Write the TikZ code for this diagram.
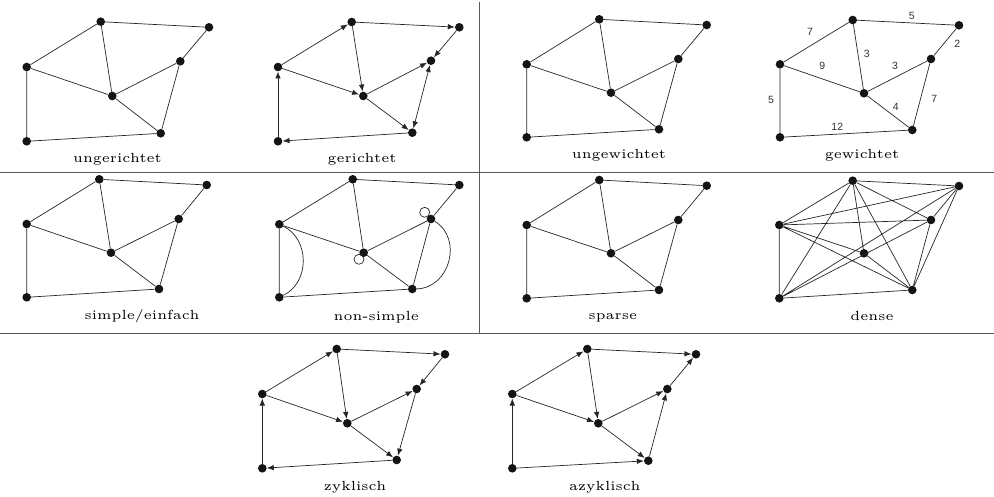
\documentclass[tikz,border=0pt]{standalone}
\usepackage{fontspec}
\newfontfamily\wfont{Liberation Sans}
\usetikzlibrary{arrows.meta}
\tikzset{
  dot/.style={circle,fill=black!92,inner sep=0pt,minimum size=8.6pt},
  edge/.style={draw=black!85,line width=0.7pt},
  arr/.style={-{Latex[length=7pt,width=5.5pt]}},
  darr/.style={{Latex[length=7pt,width=5.5pt]}-{Latex[length=7pt,width=5.5pt]}},
  lab/.style={font=\fontsize{5}{6}\selectfont,scale=2.64,anchor=base,inner sep=0pt,text=black},
  wt/.style={font=\wfont\fontsize{10.5}{12}\selectfont,text=black!80,inner sep=0pt},
  framel/.style={draw=black!65,line width=0.9pt},
}
\newcommand\mkgraph[8]{%
  \node[dot] (#1A) at (#2) {};
  \node[dot] (#1B) at (#3) {};
  \node[dot] (#1C) at (#4) {};
  \node[dot] (#1D) at (#5) {};
  \node[dot] (#1E) at (#6) {};
  \node[dot] (#1F) at (#7) {};
  \node[dot] (#1G) at (#8) {};
}
\newcommand\baseedges[1]{%
  \draw[edge] (#1C)--(#1A) (#1A)--(#1B) (#1B)--(#1D) (#1A)--(#1E) (#1C)--(#1E)
    (#1E)--(#1D) (#1E)--(#1F) (#1D)--(#1F) (#1C)--(#1G) (#1G)--(#1F);
}
\begin{document}
\begin{tikzpicture}[x=1pt,y=-1pt]
\useasboundingbox (0,0) rectangle (994,497);
% frame
\coordinate (fl1) at (0,172.5); \coordinate (fr1) at (994,172.5);
\coordinate (fl2) at (0,333); \coordinate (fr2) at (994,333);
\coordinate (vt) at (479,2); \coordinate (vb) at (479,333);
\draw[framel] (fl1)--(fr1) (fl2)--(fr2) (vt)--(vb);

% ungerichtet
\mkgraph{ug}{100.7,21.7}{209,27.3}{26.7,67}{180.3,61.3}{112.3,96}{160.7,133.3}{26.7,141.3}
\baseedges{ug}
\node[lab] (lug) at (117.5,163) {ungerichtet};

% gerichtet
\mkgraph{ge}{351.7,22}{459.3,27.3}{278,67}{431,60.7}{363.3,96}{412.3,132.7}{278,141.3}
\draw[edge,arr] (geG)--(geC);
\draw[edge,arr] (geC)--(geA);
\draw[edge,arr] (geA)--(geB);
\draw[edge,arr] (geB)--(geD);
\draw[edge,arr] (geA)--(geE);
\draw[edge,arr] (geC)--(geE);
\draw[edge,arr] (geE)--(geD);
\draw[edge,arr] (geE)--(geF);
\draw[edge,darr] (geD)--(geF);
\draw[edge,arr] (geF)--(geG);
\node[lab] (lge) at (362,163) {gerichtet};

% ungewichtet
\mkgraph{uw}{599.3,19.3}{706.7,25}{526.7,64.3}{678.3,59}{611,92.7}{659,129.3}{526.7,137.3}
\baseedges{uw}
\node[lab] (luw) at (619,159) {ungewichtet};

% gewichtet
\mkgraph{gw}{852.7,20}{959,25.3}{780,64.3}{931,59}{864,93.3}{912.3,130}{780,137.3}
\baseedges{gw}
\node[wt] (w1) at (810,32.3) {7};
\node[wt] (w2) at (911.7,16) {5};
\node[wt] (w3) at (957.3,44) {2};
\node[wt] (w4) at (866.7,54.3) {3};
\node[wt] (w5) at (822.3,65.7) {9};
\node[wt] (w6) at (895,65.7) {3};
\node[wt] (w7) at (895.7,106.7) {4};
\node[wt] (w8) at (934.3,99.3) {7};
\node[wt] (w9) at (771,100) {5};
\node[wt] (w10) at (837.3,126.7) {12};
\node[lab] (lgw) at (862,159) {gewichtet};

% simple
\mkgraph{si}{99.3,179.3}{206.7,185}{26.7,224}{178.7,219}{111,252.7}{159,289}{26.7,297.3}
\baseedges{si}
\node[lab] (lsi) at (142,319.5) {simple/einfach};

% non-simple
\mkgraph{ns}{352.7,179.3}{459.3,185}{279.3,224.3}{431,219}{363.7,252.7}{412.3,289}{279.3,297.3}
\baseedges{ns}
\draw[edge] (nsC) .. controls +(30.6,14.8) and +(30.6,-14.8) .. (nsG);
\draw[edge] (nsD) .. controls +(32.1,19.6) and +(37.6,-1.0) .. (nsF);
\draw[edge] ([shift={(-4.7,6.6)}]nsE.center) circle[radius=5];
\draw[edge] ([shift={(-6.3,-6.7)}]nsD.center) circle[radius=5];
\node[lab] (lns) at (376.3,320) {non-simple};

% sparse
\mkgraph{sp}{599.3,180}{706.7,185.7}{526.7,225}{678.3,220}{611,253.3}{659,290}{526.7,298.3}
\baseedges{sp}
\node[lab] (lsp) at (612.8,319.5) {sparse};

% dense
\mkgraph{de}{852.7,180.7}{959,186}{779.3,225}{931,220}{864,253.3}{912.3,290}{779.3,298.3}
\draw[edge] (deA)--(deB) (deA)--(deC) (deA)--(deD) (deA)--(deE) (deA)--(deF) (deA)--(deG)
  (deB)--(deC) (deB)--(deD) (deB)--(deF) (deB)--(deG)
  (deC)--(deD) (deC)--(deE) (deC)--(deF) (deC)--(deG)
  (deD)--(deF) (deD)--(deG) (deE)--(deF) (deF)--(deG);
\node[lab] (lde) at (872,320) {dense};

% zyklisch
\mkgraph{zy}{336.7,349}{445,354.3}{262.3,394}{416.7,389}{347.3,423.3}{396.7,460}{262.3,468.3}
\draw[edge,arr] (zyG)--(zyC);
\draw[edge,arr] (zyC)--(zyA);
\draw[edge,arr] (zyA)--(zyB);
\draw[edge,arr] (zyB)--(zyD);
\draw[edge,arr] (zyA)--(zyE);
\draw[edge,arr] (zyC)--(zyE);
\draw[edge,arr] (zyE)--(zyD);
\draw[edge,arr] (zyE)--(zyF);
\draw[edge,arr] (zyD)--(zyF);
\draw[edge,arr] (zyF)--(zyG);
\node[lab] (lzy) at (355,490) {zyklisch};

% azyklisch
\mkgraph{az}{587.3,349}{696,354.3}{512.3,394}{667.3,389}{598.3,423.3}{648.3,460.7}{512.3,468.3}
\draw[edge,arr] (azG)--(azC);
\draw[edge,arr] (azC)--(azA);
\draw[edge,arr] (azA)--(azB);
\draw[edge,arr] (azD)--(azB);
\draw[edge,arr] (azA)--(azE);
\draw[edge,arr] (azC)--(azE);
\draw[edge,arr] (azE)--(azD);
\draw[edge,arr] (azE)--(azF);
\draw[edge,arr] (azF)--(azD);
\draw[edge,arr] (azG)--(azF);
\node[lab] (laz) at (604.8,490.5) {azyklisch};
\end{tikzpicture}
\end{document}
